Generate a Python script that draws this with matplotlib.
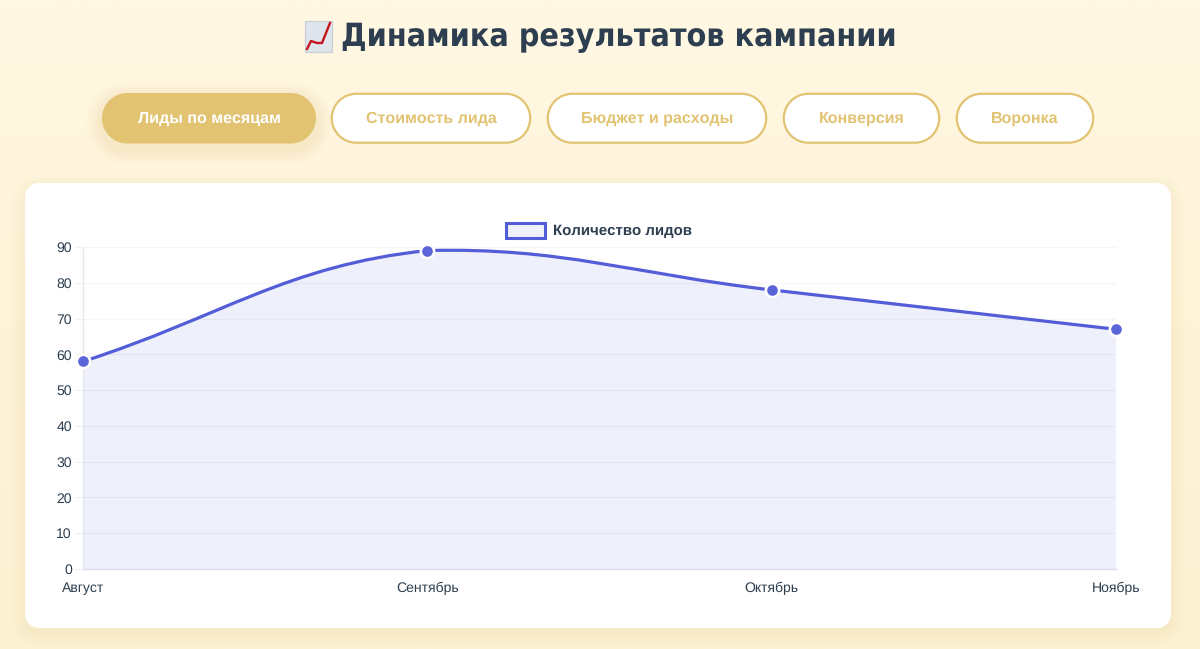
import numpy as np
import matplotlib
matplotlib.use("Agg")
import matplotlib.pyplot as plt
from matplotlib.patches import PathPatch, Rectangle
from matplotlib.path import Path
from matplotlib.colors import LinearSegmentedColormap

months = ["Август", "Сентябрь", "Октябрь", "Ноябрь"]
leads = [58, 89, 78, 67]
y_ticks = [0, 10, 20, 30, 40, 50, 60, 70, 80, 90]
title = "Динамика результатов кампании"
legend_label = "Количество лидов"
tabs = ["Лиды по месяцам", "Стоимость лида", "Бюджет и расходы", "Конверсия", "Воронка"]
tab_x0 = [102, 331, 547, 783, 956]
tab_x1 = [316, 531, 767, 940, 1094]

W, H = 1200, 649
GOLD = "#E2C372"
DARK = "#2C3E50"
BLUE = "#535DD8"
MARK = "#5A65D9"
FILL = "#EEF0FB"
SANS = ["Liberation Sans", "DejaVu Sans"]
plt.rcParams["text.hinting"] = "no_hinting"
plt.rcParams["text.hinting_factor"] = 1

fig = plt.figure(figsize=(W / 100, H / 100), dpi=100)

bg = fig.add_axes([0, 0, 1, 1], zorder=0)
bg.set_xlim(0, W)
bg.set_ylim(H, 0)
bg.axis("off")
cmap = LinearSegmentedColormap.from_list("page", ["#FFF8E3", "#FFF3D8", "#FDF1D4"])
bg.imshow(np.linspace(0, 1, 256)[:, None], extent=[0, W, H, 0], cmap=cmap, aspect="auto", zorder=0)


def rounded(x0, y0, x1, y1, r, **kw):
    k = r * (1 - 0.5523)
    v = [(x0 + r, y0), (x1 - r, y0), (x1 - k, y0), (x1, y0 + k), (x1, y0 + r),
         (x1, y1 - r), (x1, y1 - k), (x1 - k, y1), (x1 - r, y1),
         (x0 + r, y1), (x0 + k, y1), (x0, y1 - k), (x0, y1 - r),
         (x0, y0 + r), (x0, y0 + k), (x0 + k, y0), (x0 + r, y0), (x0 + r, y0)]
    c = [Path.MOVETO, Path.LINETO, Path.CURVE4, Path.CURVE4, Path.CURVE4,
         Path.LINETO, Path.CURVE4, Path.CURVE4, Path.CURVE4,
         Path.LINETO, Path.CURVE4, Path.CURVE4, Path.CURVE4,
         Path.LINETO, Path.CURVE4, Path.CURVE4, Path.CURVE4, Path.CLOSEPOLY]
    p = PathPatch(Path(v, c), **kw)
    bg.add_patch(p)
    return p


for g in range(14, 0, -2):
    rounded(25 - g, 183 - g + 4, 1171 + g, 628 + g + 4, 14 + g, fc="#C9A95A", ec="none", alpha=0.012, zorder=1)
rounded(25, 183, 1171, 628, 14, fc="white", ec="none", zorder=2)

for i, (lab, x0, x1) in enumerate(zip(tabs, tab_x0, tab_x1)):
    y0, y1 = 93, 143.5
    r = (y1 - y0) / 2
    if i == 0:
        for g in range(16, 0, -2):
            rounded(x0 - g, y0 - g + 5, x1 + g, y1 + g + 5, r + g, fc="#D9B860", ec="none", alpha=0.02, zorder=1)
        rounded(x0, y0, x1, y1, r, fc=GOLD, ec="none", zorder=3)
        col = "white"
    else:
        rounded(x0 + 0.8, y0 + 0.8, x1 - 0.8, y1 - 0.8, r - 0.8, fc="white", ec=GOLD, lw=1.6, zorder=3)
        col = GOLD
    bg.text((x0 + x1) / 2, 119, lab, ha="center", va="center", color=col, fontsize=11.2,
            fontweight="bold", family=SANS, zorder=4)

# title
bg.text(341, 38, title, ha="left", va="center", color=DARK, fontsize=22.7,
        fontweight="bold", stretch="condensed", family=["DejaVu Sans"], zorder=4)

# chart icon
bg.add_patch(Rectangle((305, 21), 26.5, 30.5, fc="#DFE5EC", ec="#C8CFD7", lw=0.9, zorder=4))
bg.plot([307, 311, 317, 322, 330], [49, 41, 43, 43, 23], color="#C4161C",
        lw=1.7, zorder=5, solid_joinstyle="round")

# legend
bg.add_patch(Rectangle((505.5, 222.5), 39.5, 15, fc=FILL, ec=BLUE, lw=2.2, zorder=4))
bg.text(553, 231, legend_label, ha="left", va="center", color=DARK, fontsize=10.7,
        fontweight="bold", family=SANS, zorder=4)

# chart
ax_l, ax_r, ax_t, ax_b = 83, 1116, 247, 569
ax = fig.add_axes([ax_l / W, 1 - ax_b / H, (ax_r - ax_l) / W, (ax_b - ax_t) / H], zorder=2)
ax.patch.set_alpha(0)
x = np.arange(len(leads), dtype=float)
y = np.array(leads, dtype=float)
ax.set_xlim(0, len(leads) - 1)
ax.set_ylim(0, 90)

# tension 0.4 spline; control points derived in pixel space and capped to the plot area
pts = ax.transData.transform(np.column_stack([x, y]))
lo = ax.transData.transform((0, 0))
hi = ax.transData.transform((len(leads) - 1, 90))
n = len(pts)
c_in, c_out = [], []
for i in range(n):
    cur = pts[i]
    prev = pts[max(i - 1, 0)]
    nxt = pts[min(i + 1, n - 1)]
    d01 = np.hypot(*(cur - prev))
    d12 = np.hypot(*(nxt - cur))
    c_in.append(np.clip(cur - 0.4 * d01 / (d01 + d12) * (nxt - prev), lo, hi))
    c_out.append(np.clip(cur + 0.4 * d12 / (d01 + d12) * (nxt - prev), lo, hi))
verts = [tuple(pts[0])]
codes = [Path.MOVETO]
for i in range(1, n):
    verts += [tuple(c_out[i - 1]), tuple(c_in[i]), tuple(pts[i])]
    codes += [Path.CURVE4] * 3
inv = ax.transData.inverted()
data_verts = inv.transform(np.array(verts))
line_path = Path(data_verts, codes)
fill_verts = np.vstack([data_verts, [x[-1], 0], [x[0], 0], data_verts[0]])
fill_codes = codes + [Path.LINETO, Path.LINETO, Path.CLOSEPOLY]
ax.add_patch(PathPatch(Path(fill_verts, fill_codes), fc=FILL, ec="none", zorder=1))
ax.set_yticks(y_ticks)
ax.set_xticks(x)
ax.set_xticklabels(months)
ax.grid(axis="y", color="#000000", alpha=0.04, lw=1)
for gl in ax.get_ygridlines():
    gl.set_zorder(2)
ax.add_patch(PathPatch(line_path, fc="none", ec=BLUE, lw=2.3, zorder=3, clip_on=False,
                       capstyle="round"))
ax.plot(x, y, ls="none", marker="o", ms=9.6, mfc=MARK, mec="white", mew=1.9, zorder=4, clip_on=False)
for s in ["top", "right"]:
    ax.spines[s].set_visible(False)
ax.spines["left"].set_color("#E6E6EC")
ax.spines["left"].set_linewidth(1)
ax.spines["bottom"].set_color("#DADCEA")
ax.spines["bottom"].set_linewidth(1)
ax.tick_params(axis="y", length=6, width=0.8, color="#F0F0F2", labelsize=9.8, labelcolor=DARK, pad=2)
ax.tick_params(axis="x", length=0, labelsize=9.8, labelcolor=DARK, pad=16.6)
for t in ax.get_xticklabels():
    t.set_family(SANS)
    t.set_verticalalignment("baseline")
for t in ax.get_yticklabels():
    t.set_family(SANS)

fig.savefig("out.png", dpi=100)
